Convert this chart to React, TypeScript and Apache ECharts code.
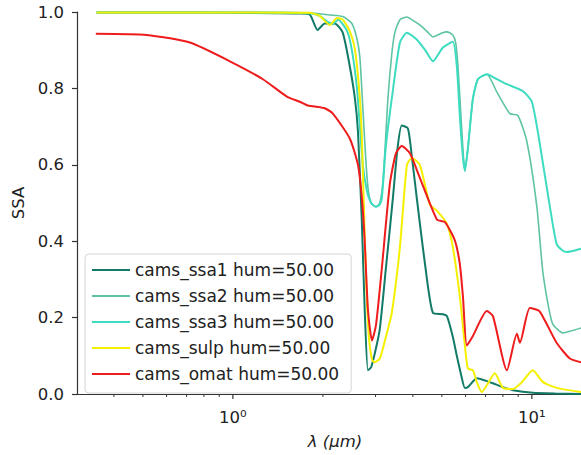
import React, { useEffect, useRef } from "react";
import * as echarts from "echarts";

// ---- data (wavelength in µm, single scattering albedo) ----
const lamSsa1 = [0.35, 0.6, 1.0, 1.4, 1.68, 1.81, 1.92, 2.03, 2.19, 2.33, 2.46, 2.56, 2.62, 2.70, 2.76, 2.83, 2.90, 3.01, 3.10, 3.25, 3.43, 3.55, 3.67, 3.85, 3.97, 4.12, 4.39, 4.67, 5.04, 5.20, 5.44, 5.61, 5.80, 5.97, 6.11, 6.55, 7.0, 7.41, 8.0, 8.64, 10.07, 12.0, 14.6];
const ssaSsa1 = [0.999, 0.999, 0.998, 0.997, 0.996, 0.993, 0.953, 0.97, 0.97, 0.946, 0.858, 0.773, 0.687, 0.45, 0.22, 0.062, 0.07, 0.12, 0.17, 0.33, 0.514, 0.64, 0.703, 0.695, 0.62, 0.514, 0.341, 0.212, 0.209, 0.204, 0.15, 0.10, 0.05, 0.016, 0.018, 0.041, 0.035, 0.028, 0.018, 0.01, 0.003, 0.001, 0.0];

const lamSsa2 = [0.35, 1.0, 1.8, 2.11, 2.33, 2.50, 2.60, 2.66, 2.72, 2.78, 2.83, 2.90, 3.01, 3.10, 3.18, 3.30, 3.40, 3.48, 3.62, 3.82, 4.0, 4.22, 4.45, 4.67, 5.0, 5.20, 5.44, 5.56, 5.66, 5.80, 5.97, 6.11, 6.35, 6.60, 7.07, 7.64, 8.44, 8.98, 9.62, 10.4, 10.9, 11.7, 12.7, 13.5, 14.6];
const ssaSsa2 = [0.999, 0.999, 0.998, 0.992, 0.988, 0.97, 0.93, 0.88, 0.75, 0.62, 0.54, 0.50, 0.49, 0.50, 0.56, 0.773, 0.89, 0.946, 0.98, 0.987, 0.978, 0.966, 0.95, 0.935, 0.945, 0.948, 0.94, 0.92, 0.858, 0.72, 0.584, 0.643, 0.773, 0.824, 0.837, 0.79, 0.734, 0.729, 0.661, 0.488, 0.315, 0.186, 0.16, 0.165, 0.173];

const lamSsa3 = [0.35, 1.0, 1.8, 1.95, 2.07, 2.15, 2.25, 2.41, 2.50, 2.60, 2.66, 2.72, 2.81, 2.90, 3.01, 3.10, 3.15, 3.25, 3.40, 3.62, 3.82, 4.12, 4.40, 4.67, 5.04, 5.44, 5.61, 5.75, 5.88, 5.97, 6.11, 6.35, 6.60, 7.07, 7.6, 8.25, 9.33, 10.0, 10.6, 11.5, 12.1, 12.7, 13.1, 14.1, 14.6];
const ssaSsa3 = [0.999, 0.999, 0.997, 0.99, 0.975, 0.968, 0.98, 0.95, 0.90, 0.80, 0.70, 0.60, 0.53, 0.50, 0.49, 0.496, 0.514, 0.65, 0.773, 0.92, 0.946, 0.928, 0.90, 0.871, 0.907, 0.922, 0.858, 0.72, 0.62, 0.584, 0.643, 0.773, 0.824, 0.837, 0.825, 0.811, 0.793, 0.765, 0.661, 0.488, 0.393, 0.375, 0.372, 0.377, 0.38];

const lamSulp = [0.35, 1.0, 1.8, 1.95, 2.11, 2.23, 2.33, 2.46, 2.56, 2.66, 2.70, 2.74, 2.79, 2.85, 2.92, 2.98, 3.10, 3.25, 3.40, 3.62, 3.82, 3.97, 4.22, 4.56, 4.81, 5.20, 5.44, 5.74, 5.97, 6.11, 6.35, 6.55, 6.80, 7.07, 7.52, 8.00, 8.64, 9.26, 10.07, 10.9, 12.1, 14.6];
const ssaSulp = [0.999, 0.999, 0.998, 0.99, 0.966, 0.984, 0.98, 0.95, 0.902, 0.773, 0.67, 0.50, 0.30, 0.15, 0.09, 0.083, 0.093, 0.15, 0.212, 0.385, 0.6, 0.618, 0.6, 0.496, 0.48, 0.445, 0.385, 0.256, 0.127, 0.067, 0.062, 0.03, 0.005, 0.023, 0.054, 0.016, 0.013, 0.031, 0.062, 0.031, 0.016, 0.005];

const lamOmat = [0.348, 0.515, 0.718, 0.977, 1.26, 1.52, 1.675, 1.77, 1.86, 1.95, 2.03, 2.16, 2.46, 2.62, 2.70, 2.76, 2.83, 2.92, 3.01, 3.15, 3.35, 3.51, 3.67, 3.91, 4.22, 4.81, 5.12, 5.52, 5.74, 5.88, 6.06, 6.35, 7.07, 7.41, 8.25, 8.91, 9.12, 9.84, 10.6, 12.1, 13.4, 14.6];
const ssaOmat = [0.943, 0.940, 0.920, 0.871, 0.824, 0.778, 0.765, 0.756, 0.753, 0.751, 0.748, 0.734, 0.669, 0.6, 0.514, 0.40, 0.22, 0.14, 0.18, 0.33, 0.55, 0.63, 0.649, 0.63, 0.566, 0.457, 0.45, 0.403, 0.341, 0.256, 0.127, 0.152, 0.217, 0.204, 0.062, 0.158, 0.134, 0.225, 0.217, 0.134, 0.093, 0.083];

const seriesNames = [
  "cams_ssa1 hum=50.00",
  "cams_ssa2 hum=50.00",
  "cams_ssa3 hum=50.00",
  "cams_sulp hum=50.00",
  "cams_omat hum=50.00",
];

const xMin = 0.301;
const xMax = 14.6;
const majorTicks = [1, 10];
const majorTickLabels = ["10\u2070", "10\u00B9"];
const minorTicks = [0.4, 0.5, 0.6, 0.7, 0.8, 0.9, 2, 3, 4, 5, 6, 7, 8, 9];

const FONT = "DejaVu Sans";

function zip(xs: number[], ys: number[]) {
  return xs.map((x, i) => [x, ys[i]]);
}

export default function App() {
  const ref = useRef<HTMLDivElement>(null);

  useEffect(() => {
    if (!ref.current) return;
    const chart = echarts.init(ref.current, undefined, { renderer: "svg" });

    const colors = ["#127a66", "#5fc3a4", "#3ddcc0", "#f5f000", "#ee1c1c"];
    const widths = [2, 1.6, 2, 2, 2];
    const lamArr = [lamSsa1, lamSsa2, lamSsa3, lamSulp, lamOmat];
    const ssaArr = [ssaSsa1, ssaSsa2, ssaSsa3, ssaSulp, ssaOmat];

    const lineSeries = seriesNames.map((name, i) => ({
      name,
      type: "line",
      data: zip(lamArr[i], ssaArr[i]),
      symbol: "none",
      smooth: 0.2,
      clip: false,
      lineStyle: { color: colors[i], width: widths[i] },
      itemStyle: { color: colors[i] },
      z: 3 + i,
    }));

    const option: any = {
      animation: false,
      backgroundColor: "#ffffff",
      grid: { left: 77, right: 0, top: 12, bottom: 56 },
      xAxis: [
        {
          type: "log",
          logBase: 10,
          min: xMin,
          max: xMax,
          name: "\u03BB (\u03BCm)",
          nameLocation: "middle",
          nameGap: 39,
          nameTextStyle: {
            fontFamily: FONT,
            fontSize: 16.5,
            fontStyle: "italic",
            color: "#222",
            padding: [0, 0, 0, 12],
          },
          axisLine: { show: true, onZero: false, lineStyle: { color: "#333", width: 1.2 } },
          axisTick: { show: false },
          axisLabel: { show: false },
          splitLine: { show: false },
          minorTick: { show: false },
        },
        {
          type: "value",
          position: "top",
          min: 0,
          max: 1,
          axisLine: { show: true, lineStyle: { color: "#333", width: 1.2 } },
          axisTick: { show: false },
          axisLabel: { show: false },
          splitLine: { show: false },
        },
      ],
      yAxis: {
        type: "value",
        min: 0,
        max: 1,
        interval: 0.2,
        name: "SSA",
        nameLocation: "middle",
        nameGap: 46,
        nameTextStyle: { fontFamily: FONT, fontSize: 16.5, color: "#222" },
        axisLine: { show: true, lineStyle: { color: "#333", width: 1.2 } },
        axisTick: { show: true, length: 5, lineStyle: { color: "#333", width: 1.2 } },
        axisLabel: {
          fontFamily: FONT,
          fontSize: 16.5,
          color: "#222",
          margin: 13,
          formatter: (v: number) => v.toFixed(1),
        },
        splitLine: { show: false },
      },
      legend: {
        data: seriesNames.map((n) => ({ name: n, icon: "rect" })),
        orient: "vertical",
        left: 85,
        top: 254,
        itemWidth: 38,
        itemHeight: 2,
        itemGap: 6,
        padding: [6, 12, 9, 7],
        borderColor: "#d4d4d4",
        borderWidth: 1,
        borderRadius: 4,
        backgroundColor: "rgba(255,255,255,0.85)",
        textStyle: { fontFamily: FONT, fontSize: 17, color: "#222", lineHeight: 20 },
        selectedMode: false,
      },
      series: [
        ...lineSeries,
        {
          name: "minorTicks",
          type: "custom",
          silent: true,
          clip: false,
          data: minorTicks.map((v) => [v, 0]),
          renderItem: (_params: any, api: any) => {
            const p = api.coord([api.value(0), 0]);
            return {
              type: "line",
              shape: { x1: p[0], y1: p[1], x2: p[0], y2: p[1] + 3 },
              style: { stroke: "#333", lineWidth: 1 },
            };
          },
          z: 2,
        },
        {
          name: "majorTicks",
          type: "custom",
          silent: true,
          clip: false,
          data: majorTicks.map((v, i) => [v, 0, i]),
          renderItem: (_params: any, api: any) => {
            const p = api.coord([api.value(0), 0]);
            const idx = api.value(2);
            return {
              type: "group",
              children: [
                {
                  type: "line",
                  shape: { x1: p[0], y1: p[1], x2: p[0], y2: p[1] + 5 },
                  style: { stroke: "#333", lineWidth: 1.2 },
                },
                {
                  type: "text",
                  x: p[0],
                  y: p[1] + 23,
                  style: {
                    text: majorTickLabels[idx],
                    fontFamily: FONT,
                    fontSize: 16.5,
                    fill: "#222",
                    align: "center",
                    verticalAlign: "middle",
                  },
                },
              ],
            };
          },
          z: 2,
        },
      ],
    };

    chart.setOption(option);
    return () => chart.dispose();
  }, []);

  return (
    <div
      ref={ref}
      style={{ position: "fixed", left: 0, top: 0, width: 581, height: 455, background: "#fff" }}
    />
  );
}
